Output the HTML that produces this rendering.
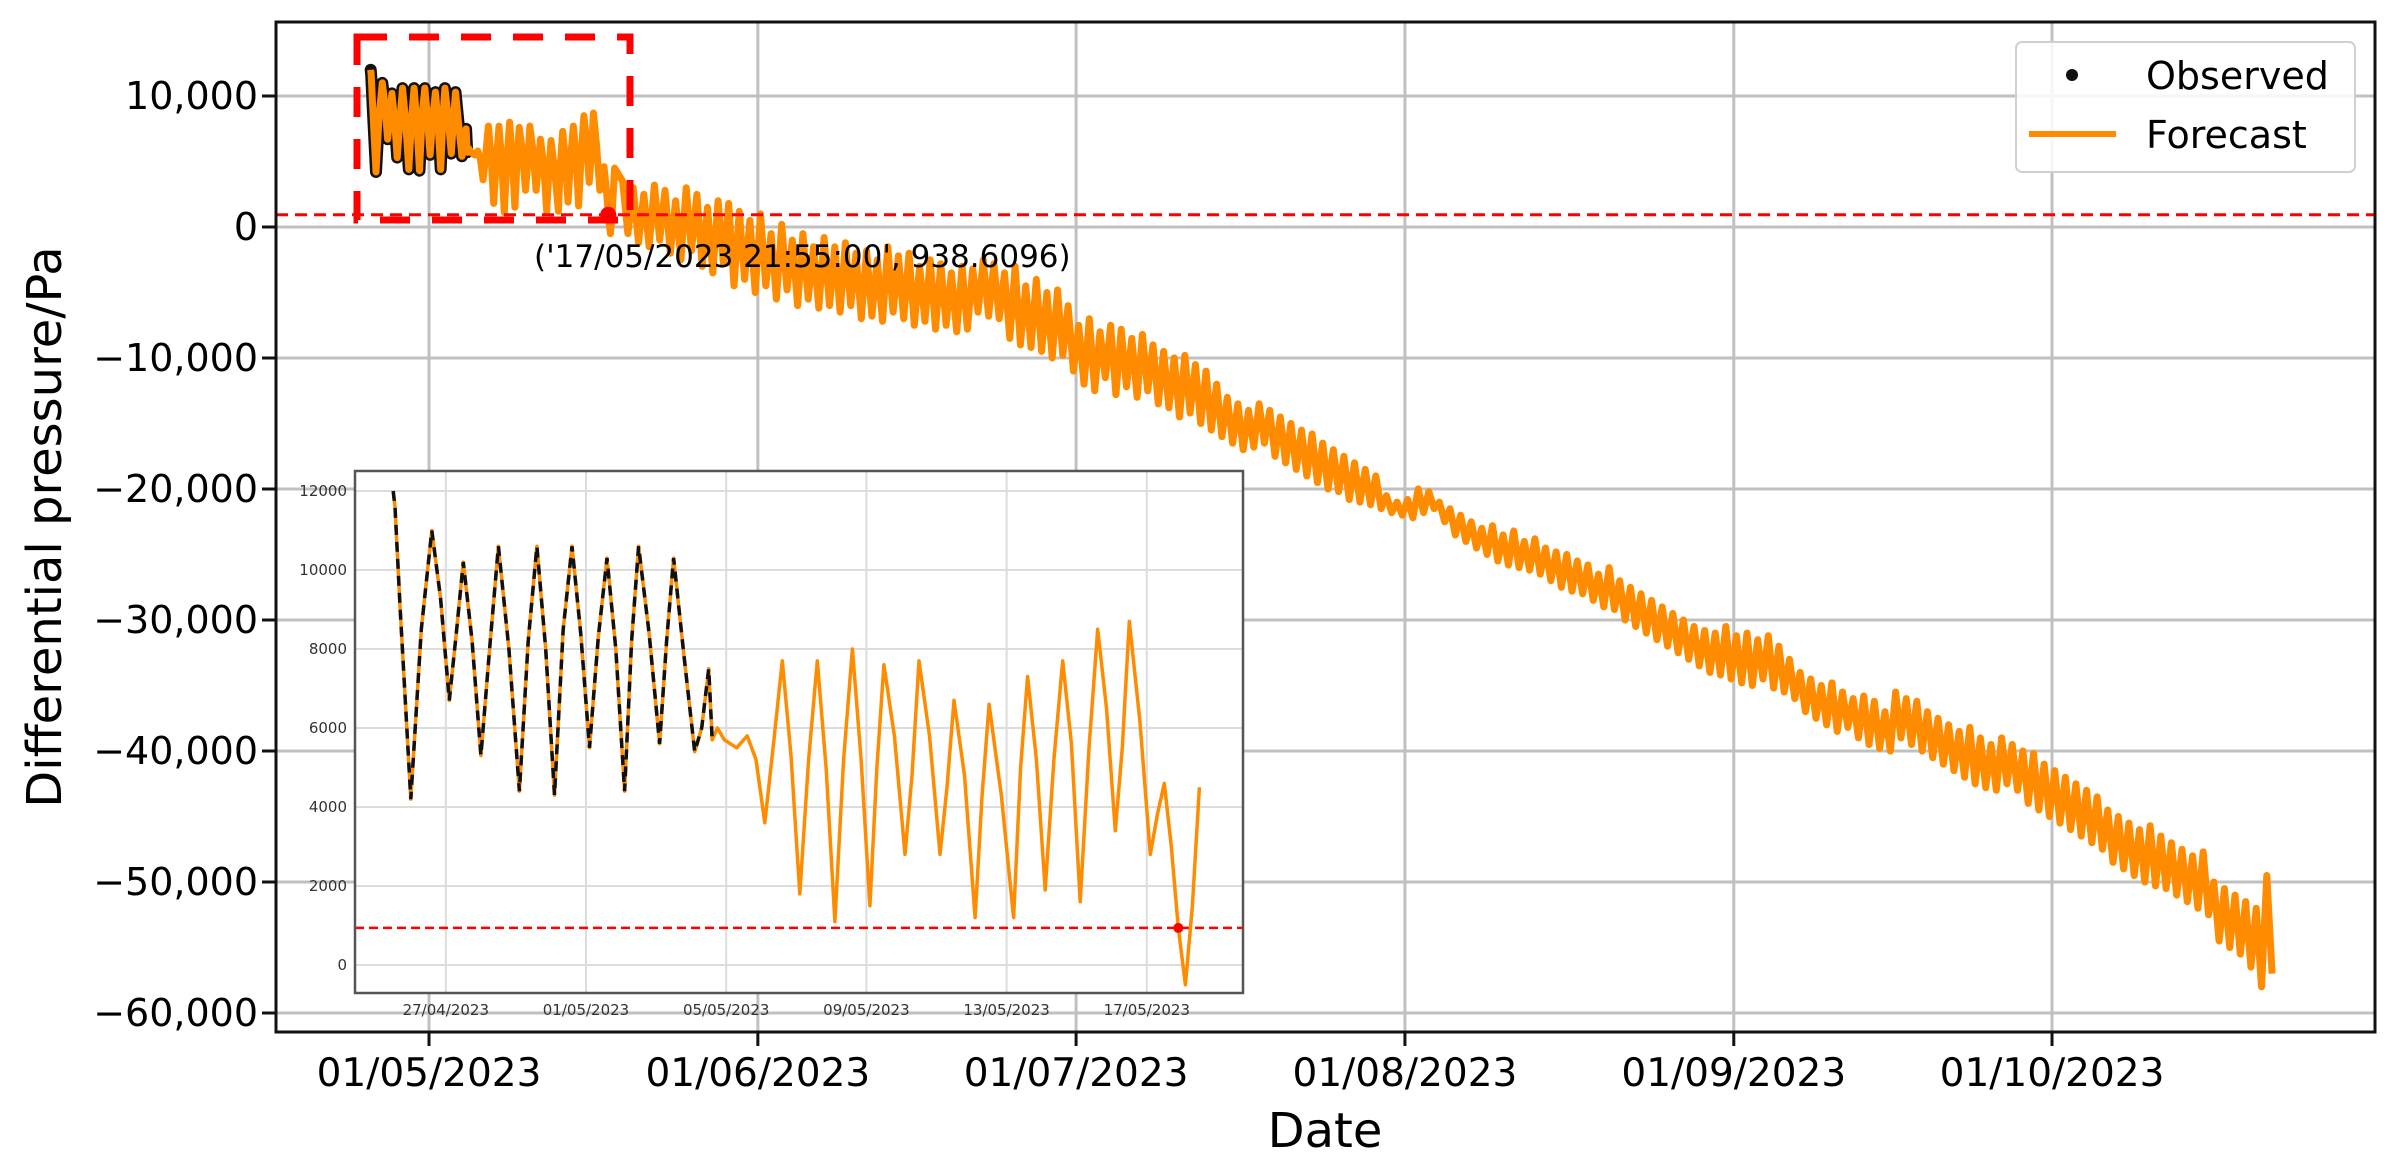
<!DOCTYPE html>
<html><head><meta charset="utf-8"><style>
html,body{margin:0;padding:0;background:#fff;}
svg{display:block;font-family:"DejaVu Sans","Liberation Sans",sans-serif;}
</style></head><body>
<svg id="chart" width="2395" height="1165" viewBox="0 0 2395 1165" xmlns="http://www.w3.org/2000/svg">
<rect x="0" y="0" width="2395" height="1165" fill="#fff"/>
<g id="mainGrid"></g>
<g id="mainTicks"></g>
<g id="mainSeries"></g>
<g id="overlay"></g>
<rect x="276" y="22" width="2099" height="1010" fill="none" stroke="#111" stroke-width="3"/>
<text x="48" y="527" font-size="48" text-anchor="middle" dominant-baseline="middle" transform="rotate(-90 48 527)" fill="#000">Differential pressure/Pa</text>
<text x="1325" y="1147" font-size="48" text-anchor="middle" fill="#000">Date</text>
<g>
<rect x="2016" y="42" width="339" height="130" rx="6" fill="#fff" fill-opacity="0.85" stroke="#d0d0d0" stroke-width="2"/>
<circle cx="2072" cy="75" r="6" fill="#111"/>
<text x="2146" y="89" font-size="38" fill="#000">Observed</text>
<line x1="2029" y1="134" x2="2116" y2="134" stroke="#ff8c00" stroke-width="6"/>
<text x="2146" y="148" font-size="38" fill="#000">Forecast</text>
</g>
<g id="inset"></g>
</svg>
<script>
// ---- data ----
// observed (days relative to 01/05/2023, value Pa)
const obsT = [-5.5,-5.45,-5.3,-5.0,-4.7,-4.4,-4.15,-3.9,-3.7,-3.5,-3.25,-3.0,-2.75,-2.5,-2.2,-1.9,-1.65,-1.4,-1.15,-0.9,-0.65,-0.4,-0.15,0.1,0.35,0.6,0.85,1.1,1.3,1.5,1.8,2.1,2.3,2.5,2.8,3.1,3.3,3.5,3.6];
const obsV = [12000,11600,9000,4200,8500,11000,9300,6700,8400,10200,8200,5300,8000,10600,8000,4400,8200,10600,8000,4300,8500,10600,8400,5500,8300,10300,8000,4400,8200,10600,8400,5600,8200,10300,7800,5400,6000,7500,5700];
// forecast detail (days relative to 01/05/2023)
const fcT = [3.75,3.95,4.3,4.6,4.85,5.1,5.35,5.6,5.85,6.1,6.35,6.6,6.85,7.1,7.35,7.6,7.85,8.1,8.3,8.5,8.8,9.1,9.3,9.5,9.8,10.1,10.3,10.5,10.8,11.1,11.3,11.5,11.85,12.2,12.4,12.6,12.85,13.1,13.35,13.6,13.85,14.1,14.35,14.6,14.85,15.1,15.3,15.5,15.8,16.1,16.3,16.5,16.7,16.9,17.1,17.3,17.5];
const fcV = [6000,5700,5500,5800,5200,3600,5600,7700,5300,1800,5200,7700,5000,1100,5200,8000,5200,1500,5000,7600,5800,2800,4800,7700,5800,2800,4500,6700,4800,1200,4300,6600,4300,1200,5000,7300,5200,1900,5200,7700,5600,1600,5500,8500,6500,3400,5500,8700,6200,2800,3800,4600,3000,938.6,-500,1500,4500];
// long-range forecast daily highs / lows (kPa), from 19/05/2023 onward
const dailyStart = 18;
const dailyHigh = [3.5,3.0,2.5,3.2,2.8,2.0,3.0,2.5,1.5,2.0,
1.8,1.2,0.5,1.0,-0.5,0.2,-1.0,-0.5,-1.5,-0.8,
-1.5,-1.2,-2.0,-1.8,-2.5,-1.5,-2.2,-2.0,-3.0,-2.5,
-2.8,-3.5,-3.0,-3.2,-2.5,-2.8,-3.5,-3.0,-4.5,-4.0,
-5.0,-4.8,-6.0,-7.5,-7.0,-8.0,-7.5,-7.8,-8.5,-8.2,
-9.0,-9.5,-10.0,-9.8,-10.5,-11.0,-12.0,-13.0,-13.5,-14.0,
-13.5,-14.0,-14.5,-15.0,-15.5,-15.8,-16.5,-17.0,-17.5,-18.0,
-18.5,-19.0,-20.5,-21.0,-20.8,-20.0,-20.2,-21.0,-21.5,-22.0,
-22.5,-23.0,-22.8,-23.5,-23.2,-24.0,-23.8,-24.5,-24.8,-25.0,
-25.5,-25.8,-26.5,-26.0,-27.0,-27.5,-28.0,-28.5,-29.0,-29.5,
-30.0,-30.5,-30.8,-31.0,-30.5,-31.2,-31.0,-31.5,-31.2,-32.0,
-33.0,-34.0,-34.5,-35.0,-34.8,-35.5,-36.0,-35.8,-36.2,-37.0,
-35.5,-36.0,-36.2,-37.0,-37.5,-38.0,-38.5,-38.2,-39.0,-39.5,
-39.0,-39.5,-40.0,-40.2,-41.0,-41.5,-42.0,-42.5,-43.0,-43.5,
-44.5,-45.0,-45.5,-46.0,-45.7,-46.5,-47.0,-47.5,-48.0,-47.7,
-50.0,-50.5,-51.0,-51.5,-52.0,-49.5];
const dailyLow = [-0.5,-1.2,-1.5,-1.0,-2.0,-2.5,-1.8,-3.0,-3.5,-2.8,
-4.5,-4.0,-5.0,-4.5,-5.5,-4.8,-6.0,-5.5,-6.2,-6.0,
-6.5,-6.0,-7.0,-6.8,-7.2,-6.5,-7.0,-7.5,-7.2,-7.8,
-7.5,-8.0,-7.8,-6.5,-6.8,-7.0,-8.5,-9.0,-9.2,-9.5,
-10.0,-9.8,-11.0,-12.0,-12.5,-11.5,-12.8,-12.2,-13.0,-12.5,
-13.5,-13.8,-14.5,-14.2,-15.0,-15.5,-16.0,-16.5,-17.0,-16.8,
-16.5,-17.5,-18.0,-18.5,-19.0,-19.5,-20.0,-20.2,-20.8,-21.0,
-21.2,-21.5,-21.8,-22.0,-22.2,-21.8,-21.5,-22.5,-23.5,-24.0,
-24.5,-25.0,-25.5,-25.8,-26.0,-26.2,-26.5,-27.0,-27.5,-27.8,
-28.0,-28.5,-29.0,-29.2,-30.0,-30.5,-31.0,-31.5,-32.0,-32.5,
-33.0,-33.5,-34.0,-34.2,-34.5,-34.8,-35.0,-34.5,-35.2,-35.5,
-36.0,-37.0,-37.5,-38.0,-38.5,-38.2,-39.0,-39.5,-39.8,-40.0,
-39.0,-39.5,-40.0,-40.5,-41.0,-41.5,-42.0,-42.5,-42.8,-43.0,
-42.5,-43.0,-44.0,-44.5,-45.0,-45.5,-46.0,-46.5,-47.0,-47.5,
-48.5,-49.0,-49.5,-50.0,-50.3,-50.5,-51.0,-51.5,-52.0,-52.5,
-54.5,-55.0,-55.5,-56.5,-58.0,-57.0];
const threshold = 938.6096;
const thresholdDay = 16.9;
const mainYTicks = [10000,0,-10000,-20000,-30000,-40000,-50000,-60000];
const mainYLabels = ["10,000","0","\u221210,000","\u221220,000","\u221230,000","\u221240,000","\u221250,000","\u221260,000"];
const mainXTickDays = [0,31,61,92,123,153];
const mainXLabels = ["01/05/2023","01/06/2023","01/07/2023","01/08/2023","01/09/2023","01/10/2023"];
const insetYTicks = [0,2000,4000,6000,8000,10000,12000];
const insetXTickDays = [-4,0,4,8,12,16];
const insetXLabels = ["27/04/2023","01/05/2023","05/05/2023","09/05/2023","13/05/2023","17/05/2023"];

// ---- scales ----
const NS="http://www.w3.org/2000/svg";
function X(d){return 429+10.608*d;}
function Y(v){return 227-v*0.0131;}
function IX(d){return 586+35.05*d;}
function IY(v){return 965-v*0.0395;}
function mk(tag,attrs,parent){const e=document.createElementNS(NS,tag);for(const k in attrs)e.setAttribute(k,attrs[k]);parent.appendChild(e);return e;}

const grid=document.getElementById('mainGrid');
const ticks=document.getElementById('mainTicks');
mainYTicks.forEach((v,i)=>{
  const y=Y(v);
  const g=mk('line',{x1:276,x2:2375,y1:y,y2:y,stroke:'#c0c0c0','stroke-width':3},grid);
  
  
  const t=mk('line',{x1:262,x2:276,y1:y,y2:y,stroke:'#111','stroke-width':3},ticks);
  
  
  const l=mk('text',{x:258,y:y,'font-size':38,'text-anchor':'end','dominant-baseline':'central',fill:'#000'},ticks);
  l.textContent=mainYLabels[i];
  
  
});
mainXTickDays.forEach((d,i)=>{
  const x=X(d);
  const g=mk('line',{x1:x,x2:x,y1:22,y2:1032,stroke:'#c0c0c0','stroke-width':3},grid);
  
  
  const t=mk('line',{x1:x,x2:x,y1:1032,y2:1046,stroke:'#111','stroke-width':3},ticks);
  
  
  const l=mk('text',{x:x,y:1086,'font-size':39,'text-anchor':'middle',fill:'#000'},ticks);
  l.textContent=mainXLabels[i];
  
  
});

// main series
const ms=document.getElementById('mainSeries');
function ptsStr(ts,vs,fx,fy){return ts.map((t,i)=>fx(t).toFixed(1)+','+fy(vs[i]).toFixed(1)).join(' ');}
const obsOutline=mk('polyline',{points:ptsStr(obsT,obsV,X,Y),fill:'none',stroke:'#111','stroke-width':12,'stroke-linejoin':'round','stroke-linecap':'round'},ms);


let allT=obsT.concat(fcT), allV=obsV.concat(fcV);
for(let i=0;i<dailyHigh.length;i++){
  allT.push(dailyStart+i+0.25); allV.push(dailyHigh[i]*1000);
  allT.push(dailyStart+i+0.75); allV.push(dailyLow[i]*1000);
}
const fl=mk('polyline',{points:ptsStr(allT,allV,X,Y),fill:'none',stroke:'#ff8c00','stroke-width':7,'stroke-linejoin':'round'},ms);



// overlay: threshold, box, annotation
const ov=document.getElementById('overlay');
const th=mk('line',{x1:276,x2:2375,y1:Y(threshold),y2:Y(threshold),stroke:'#ff0000','stroke-width':3,'stroke-dasharray':'12,7'},ov);


const box=mk('rect',{x:357,y:37,width:273,height:183,fill:'none',stroke:'#ff0000','stroke-width':7,'stroke-dasharray':'30,22'},ov);


const dot=mk('circle',{cx:X(thresholdDay),cy:Y(threshold),r:8,fill:'#ff0000'},ov);


const ann=mk('text',{x:534,y:267,'font-size':31,fill:'#000'},ov);
ann.textContent="('17/05/2023 21:55:00', 938.6096)";



// inset
const ins=document.getElementById('inset');
const L=355,R=1243,T=471,B=993;
const bg=mk('rect',{x:L,y:T,width:R-L,height:B-T,fill:'#fff'},ins);


insetYTicks.forEach(v=>{
  const y=IY(v);
  const g=mk('line',{x1:L,x2:R,y1:y,y2:y,stroke:'#dcdcdc','stroke-width':2},ins);
  
  
  const l=mk('text',{x:L-8,y:y,'font-size':15,'text-anchor':'end','dominant-baseline':'central',fill:'#333'},ins);
  l.textContent=String(v);
  
  
});
insetXTickDays.forEach((d,i)=>{
  const x=IX(d);
  const g=mk('line',{x1:x,x2:x,y1:T,y2:B,stroke:'#dcdcdc','stroke-width':2},ins);
  
  
  const l=mk('text',{x:x,y:1015,'font-size':15,'text-anchor':'middle',fill:'#333'},ins);
  l.textContent=insetXLabels[i];
  
  
});
const ith=mk('line',{x1:L,x2:R,y1:IY(threshold),y2:IY(threshold),stroke:'#ff0000','stroke-width':2.5,'stroke-dasharray':'9,5'},ins);


const iT=obsT.concat(fcT), iV=obsV.concat(fcV);
const ifc=mk('polyline',{points:ptsStr(iT,iV,IX,IY),fill:'none',stroke:'#ff8c00','stroke-width':3.5,'stroke-linejoin':'round'},ins);


const iob=mk('polyline',{points:ptsStr(obsT,obsV,IX,IY),fill:'none',stroke:'#111','stroke-width':3.5,'stroke-dasharray':'10,7'},ins);


const idot=mk('circle',{cx:IX(thresholdDay),cy:IY(threshold),r:5,fill:'#ff0000'},ins);


const fr=mk('rect',{x:L,y:T,width:R-L,height:B-T,fill:'none',stroke:'#555','stroke-width':2.5},ins);


</script>
</body></html>
